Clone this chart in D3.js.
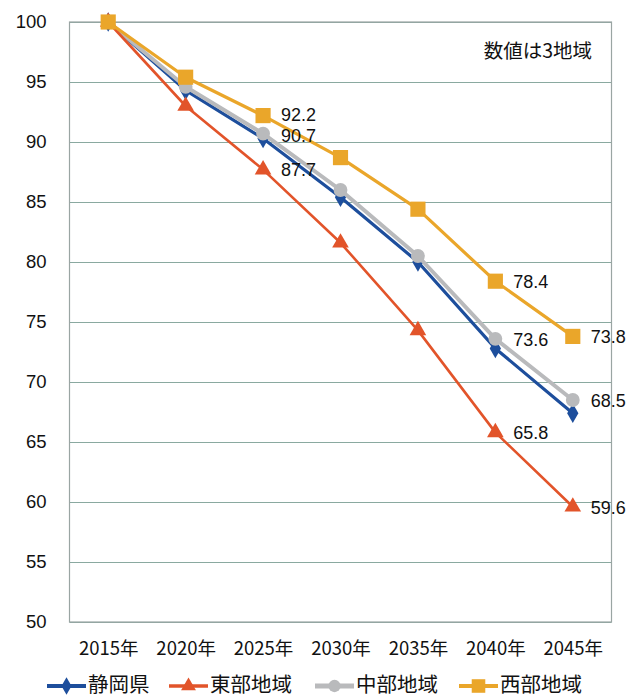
<!DOCTYPE html>
<html><head><meta charset="utf-8">
<script src="https://cdn.jsdelivr.net/npm/d3@7"></script>
<style>body{margin:0;background:#fff;} svg{display:block;}</style>
</head><body>
<svg id="c" width="626" height="698"></svg>
<script>
const years = ["2015年","2020年","2025年","2030年","2035年","2040年","2045年"];
const yTicks = [50,55,60,65,70,75,80,85,90,95,100];
const shizuoka = [100, 94.3, 90.3, 85.4, 80.0, 72.8, 67.4];
const tobu     = [100, 93.0, 87.7, 81.6, 74.3, 65.8, 59.6];
const chubu    = [100, 94.6, 90.7, 86.0, 80.5, 73.6, 68.5];
const seibu    = [100, 95.4, 92.2, 88.7, 84.4, 78.4, 73.8];
const seriesNames = ["静岡県","東部地域","中部地域","西部地域"];
// labels shown: [series index, year index]
const labelPoints = [[3,2],[2,2],[1,2],[3,5],[2,5],[1,5],[3,6],[2,6],[1,6]];
const note = "数値は3地域";

const svg = d3.select("#c");
const pL = 69.5, pR = 611.5, pT = 22, pB = 622;
const x = d3.scalePoint().domain(years).range([pL, pR]).padding(0.5);
const y = d3.scaleLinear().domain([50,100]).range([pB, pT]);

// grid
svg.append("g").selectAll("line").data(yTicks).join("line")
  .attr("x1", pL).attr("x2", pR)
  .attr("y1", d=>y(d)+0.5).attr("y2", d=>y(d)+0.5)
  .attr("stroke", "#8aa9a0").attr("stroke-width", 1.2);
svg.append("rect").attr("x", pL).attr("y", pT).attr("width", pR-pL).attr("height", pB-pT)
  .attr("fill","none").attr("stroke","#9aa5a3").attr("stroke-width",1.2);

// y axis
const ya = svg.append("g").attr("transform", `translate(${pL},0)`)
  .call(d3.axisLeft(y).tickValues(yTicks).tickSize(0).tickPadding(23));
ya.select(".domain").remove();
ya.selectAll("text").attr("font-family","'Liberation Sans', Arial, sans-serif").attr("font-size",18.5).attr("fill","#111");

// x axis
const xa = svg.append("g").attr("transform", `translate(0,${pB})`)
  .call(d3.axisBottom(x).tickSize(0).tickPadding(20));
xa.select(".domain").remove();
xa.selectAll("text").attr("font-family","'Noto Sans CJK JP', sans-serif").attr("font-size",18.5).attr("fill","#111");

const series = [
  {name: seriesNames[0], vals: shizuoka, color:"#1d4e9c", w:3.2, shape:"diamond"},
  {name: seriesNames[1], vals: tobu,     color:"#e2542a", w:2.6, shape:"triangle"},
  {name: seriesNames[2], vals: chubu,    color:"#b9babc", w:4,   shape:"circle"},
  {name: seriesNames[3], vals: seibu,    color:"#eaa62a", w:3.2, shape:"square"},
];
const symType = {diamond: d3.symbolDiamond, triangle: d3.symbolTriangle, circle: d3.symbolCircle, square: d3.symbolSquare};
const symSize = {diamond: 110, triangle: 120, circle: 150, square: 230};

const line = d3.line().x((d,i)=>x(years[i])).y(d=>y(d));
const order = [0,2,1,3];
order.forEach(si=>{
  const s = series[si];
  const g = svg.append("g");
  g.append("path").attr("d", line(s.vals)).attr("fill","none").attr("stroke", s.color).attr("stroke-width", s.w).attr("stroke-linejoin","round");
  g.selectAll("path.m").data(s.vals).join("path").attr("class","m")
    .attr("transform",(d,i)=>`translate(${x(years[i])},${y(d)})`)
    .attr("d", d3.symbol().type(symType[s.shape]).size(symSize[s.shape])())
    .attr("fill", s.color);
});

// data labels
const allVals = [shizuoka, tobu, chubu, seibu];
const nudge = (d)=> (d[1]===2 && d[0]===3) ? -1.5 : (d[1]===2 && d[0]===2) ? 1.5 : 0;
svg.append("g").selectAll("text").data(labelPoints).join("text")
  .attr("x", d=>x(years[d[1]]) + 18)
  .attr("y", d=>y(allVals[d[0]][d[1]]) + 2 + nudge(d))
  .attr("dominant-baseline","middle")
  .attr("font-family","'Liberation Sans', Arial, sans-serif").attr("font-size",18).attr("fill","#111")
  .text(d=>allVals[d[0]][d[1]].toFixed(1));

// note
svg.append("text").attr("x", 592).attr("y", 53).attr("text-anchor","end").attr("dominant-baseline","middle")
  .attr("font-family","'Noto Sans CJK JP', sans-serif").attr("font-size",19.5).attr("fill","#111").text(note);

// legend
const legX = [47, 169, 315, 459];
const lg = svg.append("g");
series.forEach((s,i)=>{
  const gx = legX[i], gy = 686;
  lg.append("line").attr("x1",gx).attr("x2",gx+39).attr("y1",gy).attr("y2",gy).attr("stroke",s.color).attr("stroke-width",s.w+0.8);
  lg.append("path").attr("transform",`translate(${gx+19.5},${gy})`).attr("d", d3.symbol().type(symType[s.shape]).size(symSize[s.shape]*0.8)()).attr("fill",s.color);
  lg.append("text").attr("x",gx+41).attr("y",gy).attr("dominant-baseline","middle")
    .attr("font-family","'Noto Sans CJK JP', sans-serif").attr("font-size",20.5).attr("fill","#111").text(s.name);
});
</script>
</body></html>
